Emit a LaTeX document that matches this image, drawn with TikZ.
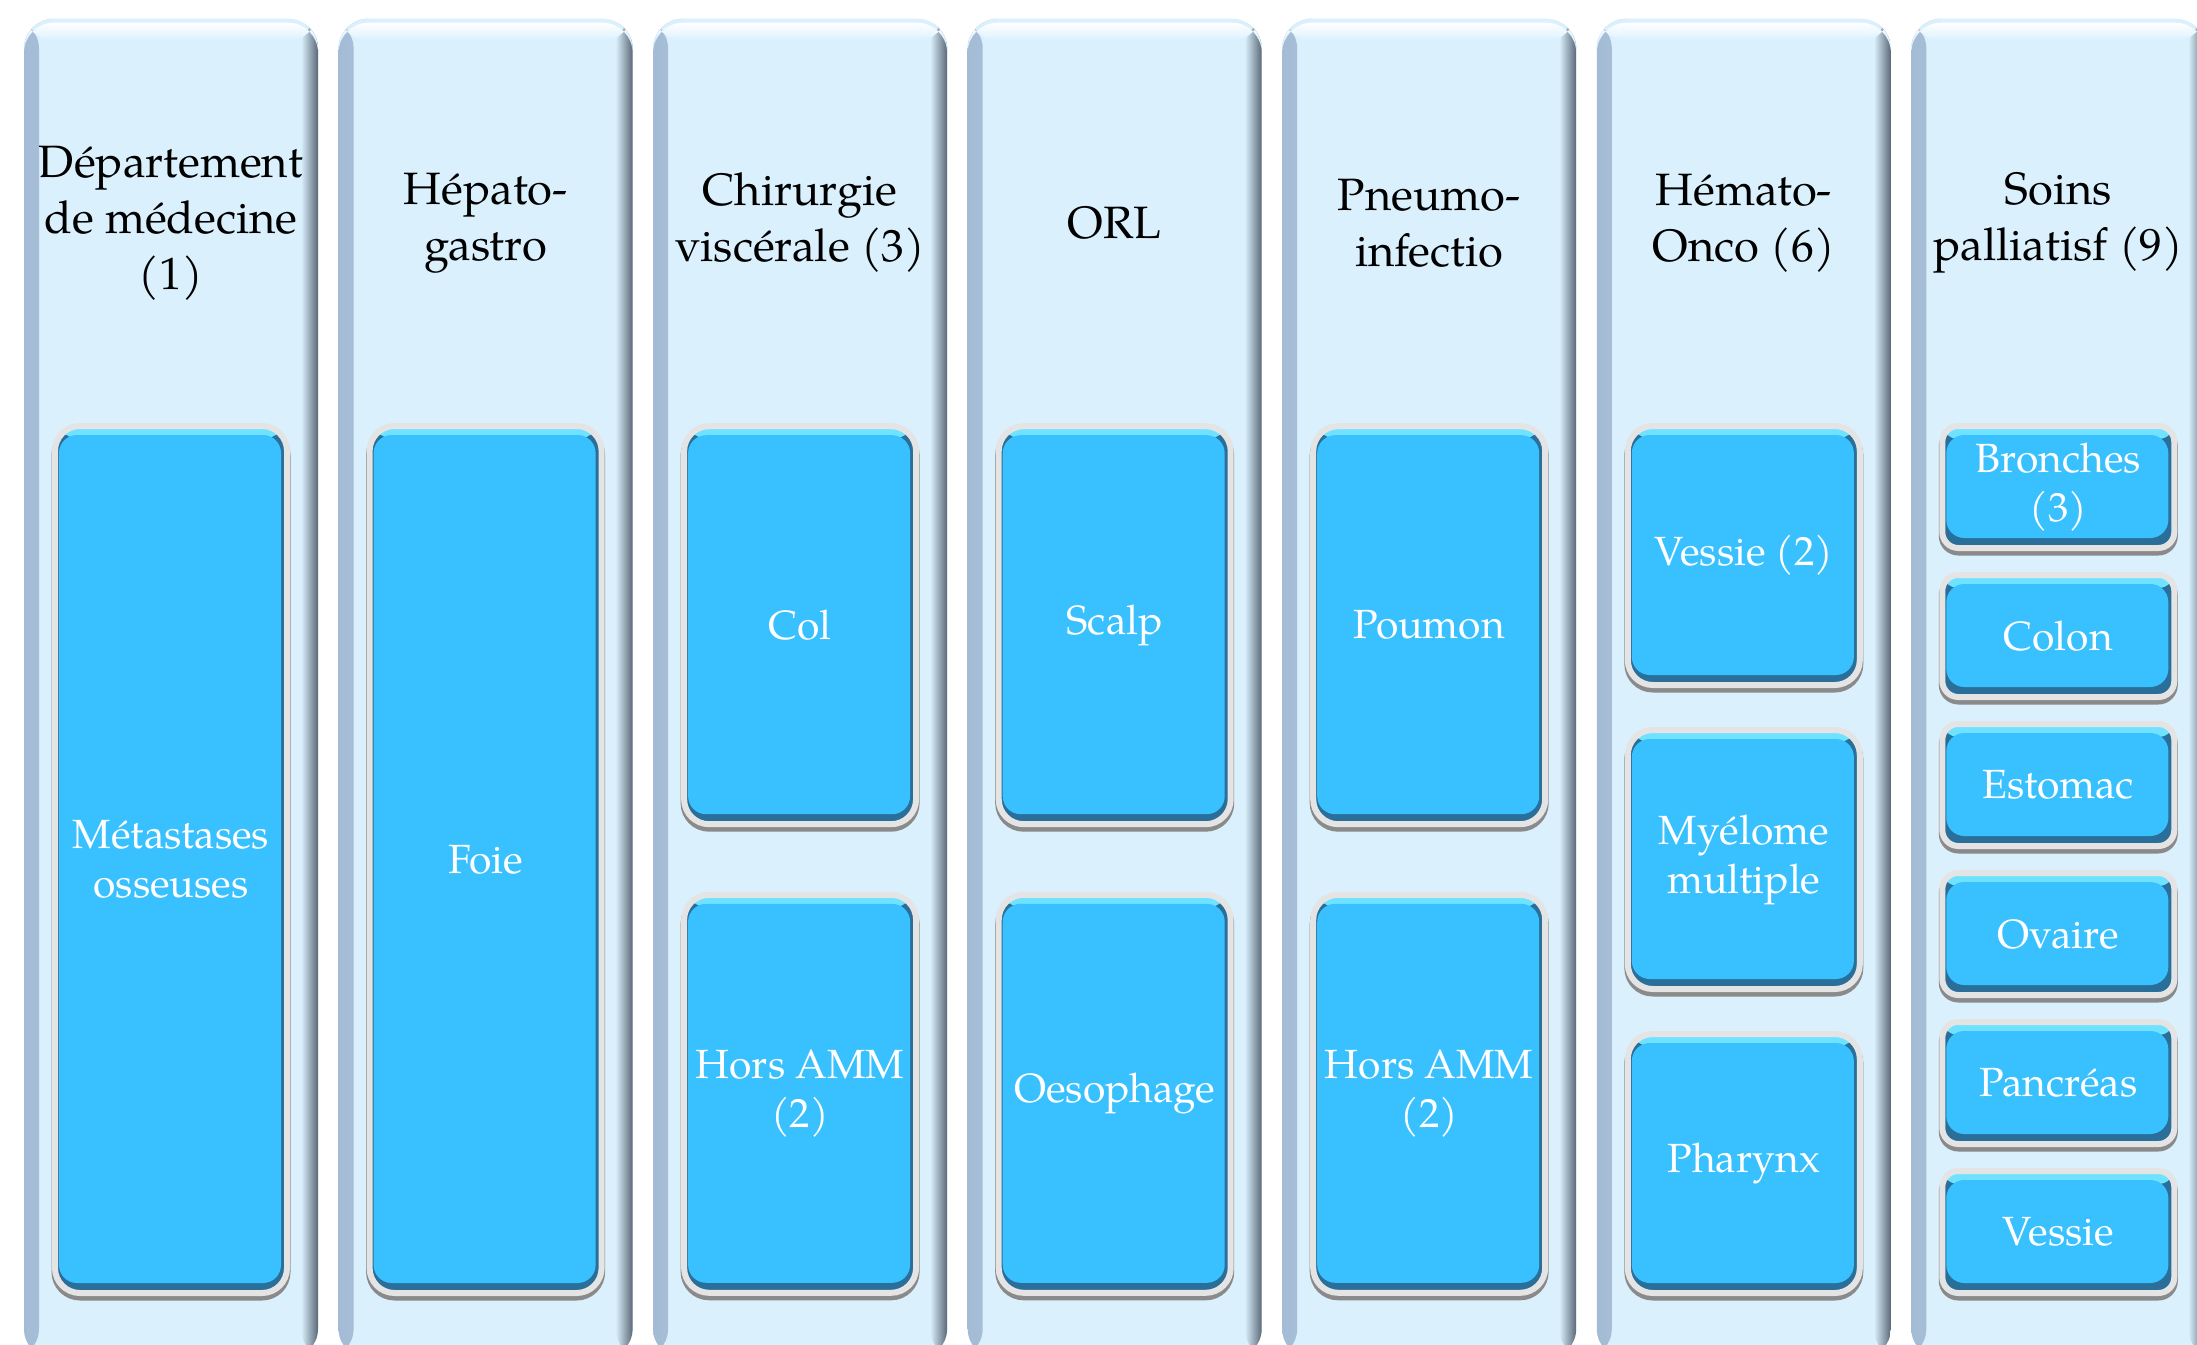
\documentclass[tikz,border=0pt]{standalone}
\usepackage{fontspec}
\setmainfont{TeX Gyre Pagella}

\definecolor{colface}{HTML}{DAF0FD}
\definecolor{colleft}{HTML}{A3BBD4}
\definecolor{colright}{HTML}{5A6878}
\definecolor{boxblue}{HTML}{38C1FE}
\definecolor{boxdark}{HTML}{2A6F9A}
\definecolor{boxlight}{HTML}{6FE2FF}
\definecolor{rimgrey}{HTML}{8A8A8A}
\definecolor{rimlight}{HTML}{E4E4E4}

\newcommand\deptfont{\fontsize{12.9}{15.9}\selectfont}
\newcommand\organfont{\fontsize{11.6}{13.9}\selectfont}

\begin{document}
\begin{tikzpicture}
    [every node/.style={inner sep=0pt, align=center},
     deptcol/.style={anchor=north, rounded corners=3mm, minimum width=2.94cm,
       minimum height=13.4cm, fill=colface,
       path picture={
         \shade[left color=colleft, right color=colface]
           (path picture bounding box.south west) rectangle ([xshift=1.5mm]path picture bounding box.north west);
         \shade[left color=colface, right color=colright]
           ([xshift=-1.7mm]path picture bounding box.south east) rectangle (path picture bounding box.north east);
         \shade[top color=white, bottom color=colface]
           ([yshift=-2.2mm]path picture bounding box.north west) rectangle ([yshift=-0.4mm]path picture bounding box.north east);
       }},
     depttitle/.style={font=\deptfont, text=black},
     organ/.style={rounded corners=2.5mm, minimum width=2.32cm, fill=boxdark,
       draw=rimlight, line width=0.6mm, text=white, font=\organfont,
       preaction={draw=rimgrey, line width=0.7mm, transform canvas={yshift=-0.4mm}},
       path picture={
         \fill[boxlight] ([yshift=-1.3mm]path picture bounding box.north west) rectangle (path picture bounding box.north east);
         \fill[boxblue, rounded corners=1.8mm]
           ([shift={(0.4mm,1.0mm)}]path picture bounding box.south west) rectangle ([shift={(-0.6mm,-0.9mm)}]path picture bounding box.north east);
       }},
     organsmall/.style={organ, rounded corners=1.6mm}]

    \useasboundingbox (0,0) rectangle (21.97,13.44);
    \clip (0,0) rectangle (21.97,13.44);
    \fill[white] (0,0) rectangle (21.97,13.44);

    % department columns
    \foreach \x [count=\i] in {1.710,4.856,8.001,11.147,14.292,17.438,20.583}
      \node[deptcol] (c\i) at (\x,13.26) {};

    \foreach \i/\txt in {1/{Département\\de médecine\\(1)}, 2/{Hépato-\\gastro},
        3/{Chirurgie\\viscérale (3)}, 4/{ORL}, 5/{Pneumo-\\infectio},
        6/{Hémato-\\Onco (6)}, 7/{Soins\\palliatisf (9)}}
      \node[depttitle] (t\i) at (c\i.north |- 0,11.21) {\txt};

    % one box
    \node[organ, minimum height=8.67cm] (m1) at (c1.north |- 0,4.845) {Métastases\\osseuses};
    \node[organ, minimum height=8.67cm] (m2) at (c2.north |- 0,4.845) {Foie};

    % two boxes
    \node[organ, minimum height=3.98cm] (m3a) at (c3.north |- 0,7.188) {Col};
    \node[organ, minimum height=3.98cm] (m3b) at (c3.north |- 0,2.502) {Hors AMM\\(2)};
    \node[organ, minimum height=3.98cm] (m4a) at (c4.north |- 0,7.188) {Scalp};
    \node[organ, minimum height=3.98cm] (m4b) at (c4.north |- 0,2.502) {Oesophage};
    \node[organ, minimum height=3.98cm] (m5a) at (c5.north |- 0,7.188) {Poumon};
    \node[organ, minimum height=3.98cm] (m5b) at (c5.north |- 0,2.502) {Hors AMM\\(2)};

    % three boxes
    \node[organ, minimum height=2.59cm] (m6a) at (c6.north |- 0,7.885) {Vessie (2)};
    \node[organ, minimum height=2.59cm] (m6b) at (c6.north |- 0,4.845) {Myélome\\multiple};
    \node[organ, minimum height=2.59cm] (m6c) at (c6.north |- 0,1.805) {Pharynx};

    % six boxes
    \foreach \y/\txt [count=\k] in {8.57/{Bronches\\(3)}, 7.08/Colon, 5.59/Estomac,
        4.10/Ovaire, 2.61/Pancréas, 1.12/Vessie}
      \node[organsmall, minimum height=1.22cm] (m7\k) at (c7.north |- 0,\y) {\txt};
\end{tikzpicture}
\end{document}
